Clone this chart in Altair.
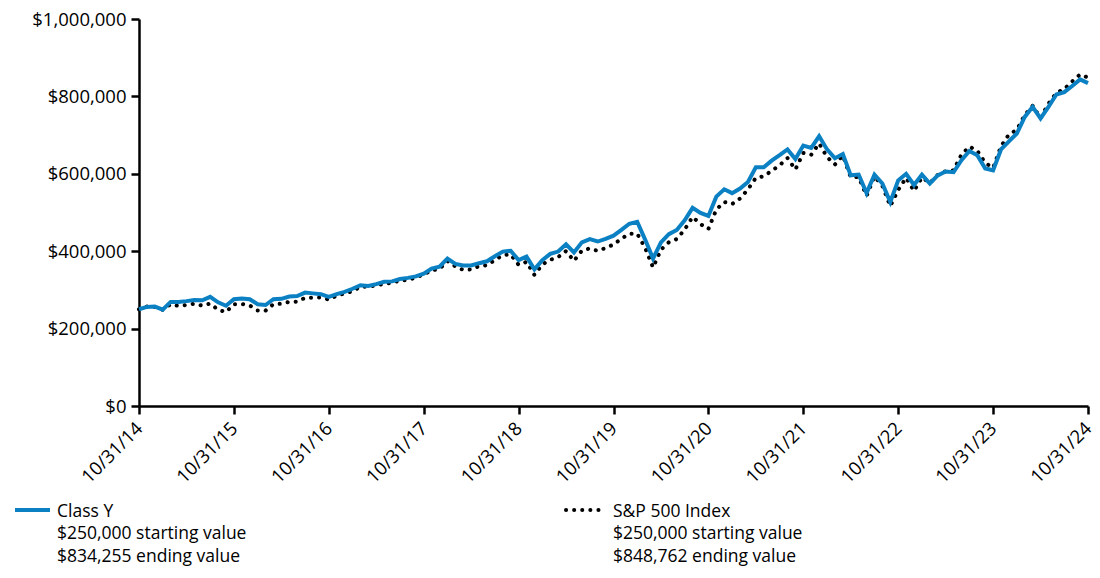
import altair as alt
import pandas as pd

# ---- data (values in $ thousands, monthly from 10/31/14 to 10/31/24) ----
tick_labels = ["10/31/14", "10/31/15", "10/31/16", "10/31/17", "10/31/18", "10/31/19",
               "10/31/20", "10/31/21", "10/31/22", "10/31/23", "10/31/24"]

class_y = [250, 256, 257, 249, 269, 269, 271, 274, 273, 282, 268, 259,
           276, 278, 276, 263, 261, 276, 277, 283, 284, 293, 291, 289,
           282, 289, 295, 303, 312, 310, 315, 321, 322, 328, 331, 335,
           342, 355, 360, 381, 367, 363, 363, 369, 374, 387, 399, 401,
           377, 386, 353, 377, 393, 399, 418, 397, 423, 431, 425, 432,
           440, 455, 471, 476, 430, 381, 423, 444, 455, 480, 512, 499,
           491, 541, 560, 550, 562, 579, 617, 617, 634, 648, 663, 638,
           673, 667, 697, 663, 640, 651, 596, 598, 550, 598, 575, 527,
           583, 600, 571, 598, 575, 596, 606, 604, 635, 659, 648, 614,
           609, 663, 684, 704, 747, 773, 743, 773, 805, 811, 827, 844,
           834.255]

sp500 = [250.0, 256.8, 256.1, 248.4, 262.7, 258.5, 261.0, 264.4, 259.3, 264.7, 248.8, 242.6,
         263.1, 263.8, 259.7, 246.8, 246.5, 263.2, 264.2, 269.0, 269.7, 279.6, 280.0, 280.1,
         275.0, 285.2, 290.8, 296.3, 308.1, 308.5, 311.7, 316.0, 318.0, 324.5, 325.5, 332.2,
         339.9, 350.4, 354.3, 374.6, 360.8, 351.6, 353.0, 361.5, 363.7, 377.2, 389.5, 391.7,
         364.9, 372.3, 338.7, 365.8, 377.6, 384.9, 400.5, 375.1, 401.5, 407.3, 400.8, 408.3,
         417.2, 432.3, 445.3, 445.2, 408.5, 358.0, 403.9, 423.1, 431.5, 455.9, 488.6, 470.0,
         457.5, 507.6, 527.1, 521.8, 536.2, 559.7, 589.6, 593.7, 607.5, 621.9, 640.8, 611.0,
         653.8, 649.3, 678.4, 643.3, 624.0, 647.2, 590.8, 591.9, 543.0, 593.1, 568.9, 516.5,
         558.3, 589.6, 555.6, 590.5, 576.1, 597.3, 606.6, 609.1, 649.4, 670.3, 659.6, 628.2,
         615.0, 671.2, 701.7, 713.5, 751.6, 775.8, 744.1, 781.0, 809.0, 818.8, 838.7, 856.6,
         848.762]

series_names = ["Class Y", "S&P 500 Index"]
start_values = ["$250,000", "$250,000"]
end_values = ["$834,255", "$848,762"]

BLUE = "#0b80c3"
FONT = "Open Sans"
TOP = 11
W, H = 949, 398 - TOP

months = list(range(len(class_y)))
df_y = pd.DataFrame({"m": months, "v": [v * 1000 for v in class_y]})
df_sp = pd.DataFrame({"m": months, "v": [v * 1000 for v in sp500]})

label_arr = "[" + ",".join("'%s'" % t for t in tick_labels) + "]"

x_enc = alt.X(
    "m:Q",
    scale=alt.Scale(domain=[0, 120], nice=False, zero=False),
    axis=alt.Axis(
        values=list(range(0, 121, 12)),
        labelExpr=label_arr + "[round(datum.value / 12)]",
        title=None, grid=False, labelAngle=-45, labelAlign="right",
        labelBaseline="middle", labelPadding=11, labelOffset=0,
    ),
)
y_enc = alt.Y(
    "v:Q",
    scale=alt.Scale(domain=[0, 1000000], nice=False),
    axis=alt.Axis(values=[0, 200000, 400000, 600000, 800000, 1000000],
                  format="$,.0f", title=None, grid=False, labelPadding=5),
)

sp_line = alt.Chart(df_sp).mark_line(
    color="black", strokeWidth=4, strokeDash=[0.1, 8], strokeCap="round"
).encode(x=x_enc, y=y_enc)

y_line = alt.Chart(df_y).mark_line(color=BLUE, strokeWidth=4).encode(x=x_enc, y=y_enc)

one = pd.DataFrame({"a": [0]})

# legend placed relative to the plot's top-left corner
LEG_LINE_Y = 510 - 8 - TOP
LEG_TEXT_Y = 502.5 - 8 - TOP

leg1_rule = alt.Chart(one).mark_rule(color=BLUE, strokeWidth=4).encode(
    x=alt.value(-124), x2=alt.value(-89), y=alt.value(LEG_LINE_Y))
leg1_text = alt.Chart(one).mark_text(
    align="left", baseline="top", lineBreak="\n", lineHeight=22.5,
    fontSize=17.5, font=FONT, color="black").encode(
    x=alt.value(-82), y=alt.value(LEG_TEXT_Y),
    text=alt.value("%s\n%s starting value\n%s ending value" % (series_names[0], start_values[0], end_values[0])))

leg2_rule = alt.Chart(one).mark_rule(
    color="black", strokeWidth=4, strokeDash=[0.1, 8], strokeCap="round").encode(
    x=alt.value(427), x2=alt.value(466), y=alt.value(LEG_LINE_Y))
leg2_text = alt.Chart(one).mark_text(
    align="left", baseline="top", lineBreak="\n", lineHeight=22.5,
    fontSize=17.5, font=FONT, color="black").encode(
    x=alt.value(474), y=alt.value(LEG_TEXT_Y),
    text=alt.value("%s\n%s starting value\n%s ending value" % (series_names[1], start_values[1], end_values[1])))

chart = alt.layer(sp_line, y_line, leg1_rule, leg1_text, leg2_rule, leg2_text).properties(
    width=W, height=H,
    autosize=alt.AutoSizeParams(type="none"),
    padding={"left": 131, "top": TOP, "right": 4, "bottom": 558 - TOP - H},
).configure_view(stroke=None).configure_axis(
    domainColor="black", domainWidth=2.5, tickColor="black", tickWidth=2.5, tickSize=8,
    labelFont=FONT, labelFontSize=18.5, labelColor="black",
)

chart.save("out.html", embed_options={"renderer": "svg", "actions": False})
